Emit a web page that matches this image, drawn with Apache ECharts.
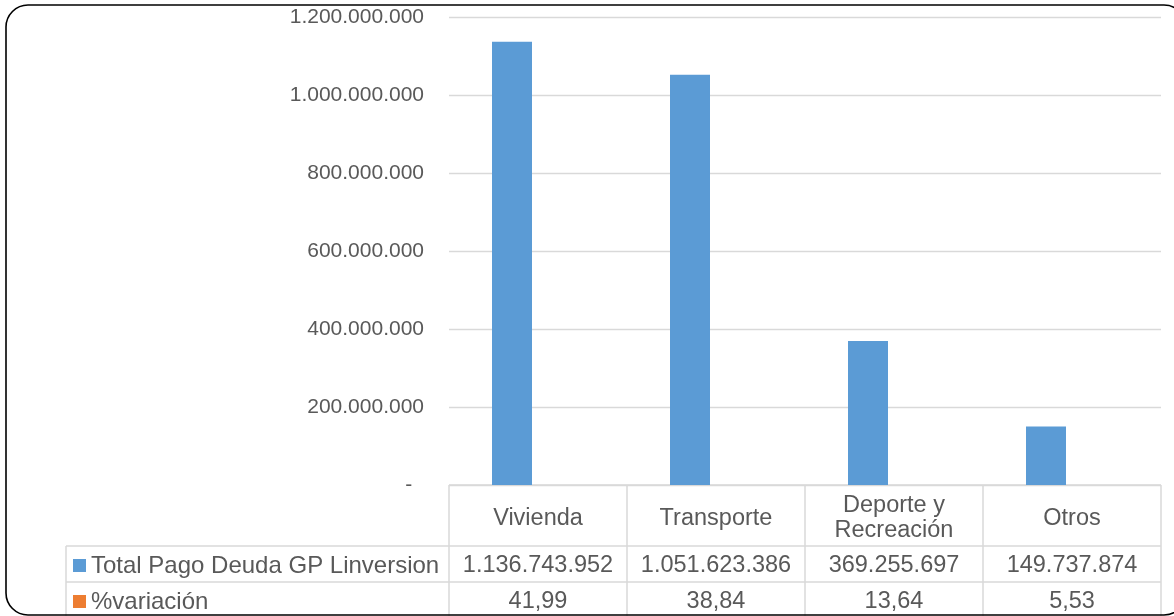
<!DOCTYPE html>
<html>
<head>
<meta charset="utf-8">
<script src="https://cdn.jsdelivr.net/npm/echarts@6/dist/echarts.min.js"></script>
<style>
html,body{margin:0;padding:0;background:#fff;}
#c{width:1174px;height:616px;}
</style>
</head>
<body>
<div id="c"></div>
<script>
const categories = ['Vivienda', 'Transporte', 'Deporte y\nRecreación', 'Otros'];
const seriesNames = ['Total Pago Deuda GP Linversion', '%variación'];
const totalPago = [1136743952, 1051623386, 369255697, 149737874];
const variacion = [41.99, 38.84, 13.64, 5.53];
const seriesColors = ['#5B9BD5', '#ED7D31'];
const yMin = 0, yMax = 1200000000, yInterval = 200000000;

function fmtThousands(n) {
  return String(Math.round(n)).replace(/\B(?=(\d{3})+(?!\d))/g, '.');
}
function fmtPct(n) {
  return n.toFixed(2).replace('.', ',');
}

const FONT = '"Liberation Sans", Arial, sans-serif';
const chart = echarts.init(document.getElementById('c'));
chart.setOption({
  animation: false,
  grid: { left: 449, right: 13, top: 17, bottom: 131, containLabel: false },
  xAxis: {
    type: 'category',
    data: categories,
    axisLine: { show: false },
    axisTick: { show: false },
    axisLabel: { show: false }
  },
  yAxis: {
    type: 'value',
    min: yMin, max: yMax, interval: yInterval,
    axisLine: { show: false },
    axisTick: { show: false },
    splitLine: { lineStyle: { color: '#D9D9D9', width: 1.3 } },
    axisLabel: {
      margin: 25,
      color: '#595959',
      fontFamily: FONT,
      fontSize: 21,
      formatter: function (v) { return v === 0 ? '-  ' : fmtThousands(v); }
    }
  },
  series: [
    { name: seriesNames[0], type: 'bar', data: totalPago, barWidth: 40, barGap: '30%', itemStyle: { color: seriesColors[0] } },
    { name: seriesNames[1], type: 'bar', data: variacion, barWidth: 40, barGap: '30%', itemStyle: { color: seriesColors[1] } }
  ]
});

// Build data table aligned with the category axis
const c0 = chart.convertToPixel({ xAxisIndex: 0 }, 0);
const c1 = chart.convertToPixel({ xAxisIndex: 0 }, 1);
const band = c1 - c0;
const yBase = chart.convertToPixel({ yAxisIndex: 0 }, 0);
const tableLeft = 66;
const rowTop = yBase;
const row1 = yBase + 61;
const row2 = yBase + 97;
const tableBottom = 640;
const left0 = c0 - band / 2;
const right0 = c0 + band * (categories.length - 0.5);
const lineStyle = { stroke: '#D9D9D9', lineWidth: 1.5 };
const g = [];
g.push({ type: 'rect', shape: { x: 6, y: 5, width: 1180, height: 610, r: 22 }, style: { fill: 'none', stroke: '#000', lineWidth: 1.6 }, z: 100 });
g.push({ type: 'line', shape: { x1: left0, y1: rowTop, x2: right0, y2: rowTop }, style: lineStyle });
g.push({ type: 'line', shape: { x1: tableLeft, y1: row1, x2: right0, y2: row1 }, style: lineStyle });
g.push({ type: 'line', shape: { x1: tableLeft, y1: row2, x2: right0, y2: row2 }, style: lineStyle });
g.push({ type: 'line', shape: { x1: tableLeft, y1: row1, x2: tableLeft, y2: tableBottom }, style: lineStyle });
for (let i = 0; i <= categories.length; i++) {
  const x = left0 + band * i;
  g.push({ type: 'line', shape: { x1: x, y1: rowTop, x2: x, y2: tableBottom }, style: lineStyle });
}
function cellText(txt, cx, cy) {
  return {
    type: 'text', x: cx, y: cy,
    style: {
      text: txt, x: 0, y: 0,
      align: 'center', verticalAlign: 'middle',
      textAlign: 'center', textVerticalAlign: 'middle',
      font: '23.5px ' + FONT, fill: '#595959', lineHeight: 25
    }
  };
}
for (let i = 0; i < categories.length; i++) {
  const cx = chart.convertToPixel({ xAxisIndex: 0 }, i);
  g.push(cellText(categories[i], cx, (rowTop + row1) / 2 + 3));
  g.push(cellText(fmtThousands(totalPago[i]), cx, (row1 + row2) / 2 + 2));
  g.push(cellText(fmtPct(variacion[i]), cx, row2 + 20));
}
const rowYs = [(row1 + row2) / 2 + 1, row2 + 19];
for (let s = 0; s < seriesNames.length; s++) {
  g.push({ type: 'rect', shape: { x: 73, y: rowYs[s] - 6, width: 13, height: 13 }, style: { fill: seriesColors[s] } });
  g.push({
    type: 'text', x: 91, y: rowYs[s] + 1,
    style: { text: seriesNames[s], x: 0, y: 0, align: 'left', verticalAlign: 'middle', textAlign: 'left', textVerticalAlign: 'middle', font: '24px ' + FONT, fill: '#595959' }
  });
}
chart.setOption({ graphic: g });
</script>
</body>
</html>
